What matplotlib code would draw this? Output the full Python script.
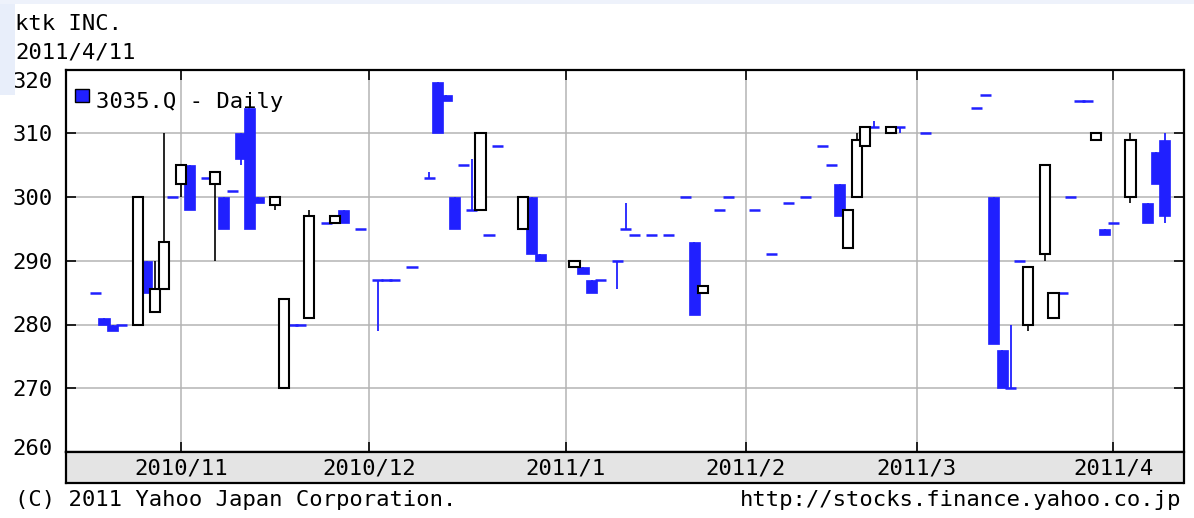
import numpy as np
import matplotlib
matplotlib.use("Agg")
import matplotlib.pyplot as plt
from matplotlib.patches import Rectangle
from matplotlib.transforms import ScaledTranslation

########################
# daily prices (flat days: open == close)

dates = ["2010-10-18", "2010-10-19", "2010-10-20", "2010-10-21", "2010-10-25",
         "2010-10-26", "2010-10-27", "2010-10-28", "2010-10-29", "2010-11-01",
         "2010-11-02", "2010-11-04", "2010-11-05", "2010-11-08", "2010-11-09",
         "2010-11-10", "2010-11-11", "2010-11-12", "2010-11-16", "2010-11-17",
         "2010-11-18", "2010-11-19", "2010-11-22", "2010-11-24", "2010-11-25",
         "2010-11-26", "2010-11-30", "2010-12-02", "2010-12-03", "2010-12-06",
         "2010-12-08", "2010-12-10", "2010-12-13", "2010-12-14", "2010-12-15",
         "2010-12-16", "2010-12-17", "2010-12-20", "2010-12-21", "2010-12-22",
         "2010-12-27", "2010-12-28", "2010-12-29", "2011-01-04", "2011-01-05",
         "2011-01-06", "2011-01-07", "2011-01-11", "2011-01-12", "2011-01-13",
         "2011-01-17", "2011-01-19", "2011-01-21", "2011-01-24", "2011-01-25",
         "2011-01-27", "2011-01-28", "2011-02-02", "2011-02-04", "2011-02-08",
         "2011-02-10", "2011-02-14", "2011-02-15", "2011-02-16", "2011-02-17",
         "2011-02-18", "2011-02-21", "2011-02-22", "2011-02-24", "2011-02-25",
         "2011-03-02", "2011-03-10", "2011-03-11", "2011-03-14", "2011-03-15",
         "2011-03-16", "2011-03-17", "2011-03-18", "2011-03-22", "2011-03-23",
         "2011-03-24", "2011-03-25", "2011-03-28", "2011-03-29", "2011-03-30",
         "2011-03-31", "2011-04-01", "2011-04-05", "2011-04-07", "2011-04-08",
         "2011-04-11"]

opens = [285, 281, 280, 280, 280, 290, 282, 285.5, 300, 302,
         305, 303, 302, 300, 301, 310, 314, 300, 298.7, 270,
         280, 280, 281, 296, 296, 298, 295, 287, 287, 287,
         289, 303, 318, 316, 300, 305, 298, 298, 294, 308,
         295, 300, 291, 289, 289, 287, 287, 290, 295, 294,
         294, 294, 300, 293, 285, 298, 300, 298, 291, 299,
         300, 308, 305, 302, 292, 300, 308, 311, 310, 311,
         310, 314, 316, 300, 276, 270, 290, 280, 291, 281,
         285, 300, 315, 315, 309, 295, 296, 300, 299, 307,
         309]

highs = [285, 281, 280, 280, 300, 290, 290, 310, 300, 305,
         305, 303, 304, 300, 301, 310, 314, 300, 300, 284,
         280, 280, 298, 296, 297, 298, 295, 287, 287, 287,
         289, 304, 318, 316, 300, 305, 306, 310, 294, 308,
         300, 300, 291, 290, 289, 287, 287, 290, 299, 294,
         294, 294, 300, 293, 286, 298, 300, 298, 291, 299,
         300, 308, 305, 302, 298, 310, 311, 312, 311, 311,
         310, 314, 316, 300, 276, 280, 290, 289, 305, 285,
         285, 300, 315, 315, 310, 295, 296, 310, 299, 307,
         310]

lows = [285, 280, 279, 280, 280, 285, 282, 285.5, 300, 300,
        298, 303, 290, 295, 301, 305, 295, 299, 298, 270,
        280, 280, 281, 296, 296, 296, 295, 279, 287, 287,
        289, 303, 310, 315, 295, 305, 298, 298, 294, 308,
        295, 291, 290, 289, 288, 285, 287, 285.5, 295, 294,
        294, 294, 300, 281.5, 285, 298, 300, 298, 291, 299,
        300, 308, 305, 297, 292, 300, 308, 311, 310, 310,
        310, 314, 316, 277, 270, 270, 290, 279, 290, 281,
        285, 300, 315, 315, 309, 294, 296, 299, 296, 302,
        296]

closes = [285, 280, 279, 280, 300, 285, 285.5, 293, 300, 305,
          298, 303, 304, 295, 301, 306, 295, 299, 300, 284,
          280, 280, 297, 296, 297, 296, 295, 287, 287, 287,
          289, 303, 310, 315, 295, 305, 298, 310, 294, 308,
          300, 291, 290, 290, 288, 285, 287, 290, 295, 294,
          294, 294, 300, 281.5, 286, 298, 300, 298, 291, 299,
          300, 308, 305, 297, 298, 309, 311, 311, 311, 311,
          310, 314, 316, 277, 270, 270, 290, 289, 305, 285,
          285, 300, 315, 315, 310, 294, 296, 309, 296, 302,
          297]

months = ["2010-11-01", "2010-12-01", "2011-01-01", "2011-02-01", "2011-03-01", "2011-04-01"]
month_labels = ["2010/11", "2010/12", "2011/1", "2011/2", "2011/3", "2011/4"]
yticks = [260, 270, 280, 290, 300, 310, 320]

########################

W, H = 1194, 518
BLUE = "#2020ff"
GRID = "#b4b4b4"
plt.rcParams["font.family"] = ["DejaVu Sans Mono"]
plt.rcParams["font.size"] = 16


def fx(px):
    return px / W


def fy(py):
    return 1 - py / H


start = "2010-11-01"
xs = np.busday_count(start, np.array(dates, dtype="datetime64[D]"))
mx = np.busday_count(start, np.array(months, dtype="datetime64[D]"))
o = np.array(opens, dtype=float)
hi = np.array(highs, dtype=float)
lo = np.array(lows, dtype=float)
c = np.array(closes, dtype=float)

fig = plt.figure(figsize=(W / 100, H / 100), dpi=100)
fig.patch.set_facecolor("white")
# faint blue page edge from the screenshot
fig.patches.append(Rectangle((0, fy(95)), fx(15), 95 / H, transform=fig.transFigure,
                             facecolor="#e8eefa", edgecolor="none", zorder=0))
fig.patches.append(Rectangle((0, fy(4)), 1, 4 / H, transform=fig.transFigure,
                             facecolor="#eef2fb", edgecolor="none", zorder=0))

left, right, top, bottom = 65.5, 1183.5, 69.5, 452
ax = fig.add_axes([fx(left), fy(bottom), fx(right - left), (bottom - top) / H])
band = fig.add_axes([fx(left), fy(482.5), fx(right - left), 30.5 / H])

width = 1.3
up = c > o
down = c < o
flat = c == o

# wicks
ax.vlines(xs[up], lo[up], hi[up], color="black", lw=1.2, zorder=3)
ax.vlines(xs[~up], lo[~up], hi[~up], color=BLUE, lw=1.3, zorder=3)
# bodies
ax.bar(xs[down], c[down] - o[down], bottom=o[down], width=width,
       color=BLUE, edgecolor=BLUE, linewidth=0.5, zorder=4)
ax.bar(xs[up], c[up] - o[up], bottom=o[up], width=width - 0.1,
       color="white", edgecolor="black", linewidth=1.5, zorder=5)
ax.hlines(o[flat], xs[flat] - width / 2, xs[flat] + width / 2,
          color=BLUE, lw=1.8, zorder=4)

ax.set_ylim(260, 320)
ax.set_xlim((left - 181.0) / 8.554, (right - 181.0) / 8.554)
ax.set_yticks(yticks)
ax.set_xticks(mx)
ax.set_xticklabels([])
ax.grid(True, color=GRID, lw=1.1)
ax.set_axisbelow(True)
ax.tick_params(axis="both", direction="in", length=7, width=1.4, color="#202020",
               top=True, right=True, pad=9)
for s in ax.spines.values():
    s.set_linewidth(1.6)

# first/last y labels are nudged inside the plot frame
labels = ax.get_yticklabels()
labels[-1].set_transform(labels[-1].get_transform() + ScaledTranslation(0, -0.11, fig.dpi_scale_trans))
labels[0].set_transform(labels[0].get_transform() + ScaledTranslation(0, 0.05, fig.dpi_scale_trans))

band.set_facecolor("#e4e4e4")
band.set_xlim(ax.get_xlim())
band.set_ylim(0, 1)
band.set_xticks([])
band.set_yticks([])
for s in band.spines.values():
    s.set_linewidth(1.6)
for m, lab in zip(mx, month_labels):
    band.text(m, 0.47, lab, ha="center", va="center")

# legend box
fig.patches.append(Rectangle((fx(75), fy(102)), fx(14), 13 / H, transform=fig.transFigure,
                             facecolor=BLUE, edgecolor="black", lw=1.0, zorder=10))
fig.text(fx(96), fy(108), "3035.Q - Daily", ha="left", va="baseline", zorder=10)

fig.text(fx(15), fy(30), "ktk INC.", ha="left", va="baseline")
fig.text(fx(15), fy(58), "2011/4/11", ha="left", va="baseline")
fig.text(fx(15), fy(506), "(C) 2011 Yahoo Japan Corporation.", ha="left", va="baseline")
fig.text(fx(1181), fy(506), "http://stocks.finance.yahoo.co.jp", ha="right", va="baseline")

fig.savefig("out.png", dpi=100)
